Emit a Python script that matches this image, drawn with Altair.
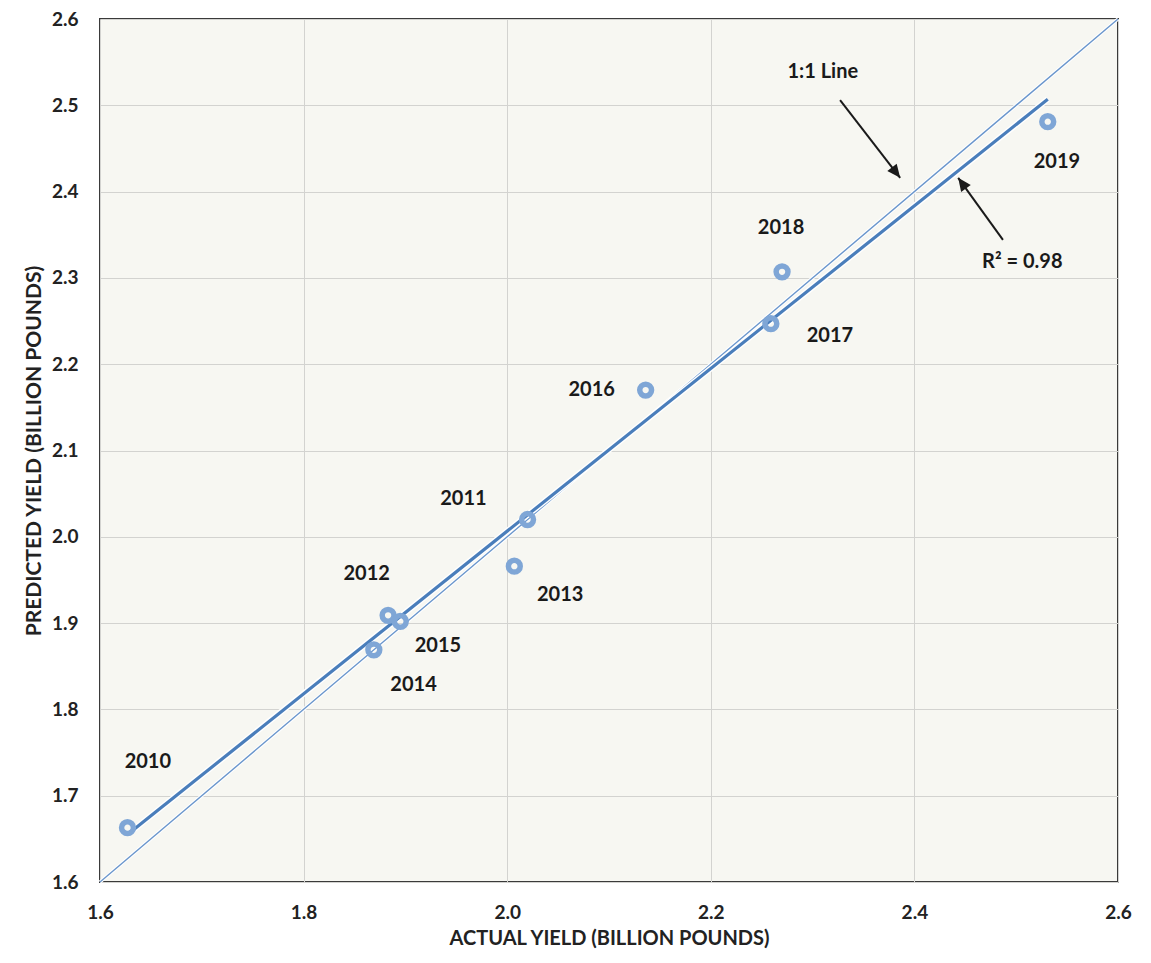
import altair as alt
import pandas as pd

# Observed data (billion pounds)
years = ["2010", "2011", "2012", "2013", "2014", "2015", "2016", "2017", "2018", "2019"]
actual = [1.627, 2.020, 1.883, 2.007, 1.869, 1.895, 2.136, 2.259, 2.270, 2.531]
predicted = [1.663, 2.020, 1.909, 1.966, 1.869, 1.902, 2.170, 2.247, 2.307, 2.481]

# Year label anchor positions (data coordinates)
label_x = [1.647, 1.957, 1.862, 2.052, 1.908, 1.932, 2.083, 2.317, 2.269, 2.540]
label_y = [1.739, 2.044, 1.957, 1.933, 1.828, 1.874, 2.170, 2.233, 2.358, 2.434]

# 1:1 reference line
one_to_one = [1.6, 2.6]

# Annotations
ann_text = ["1:1 Line", "R² = 0.98"]
ann_x = [2.310, 2.506]
ann_y = [2.539, 2.318]
arrow_x0 = [2.327, 2.487]
arrow_y0 = [2.506, 2.344]
arrow_x1 = [2.386, 2.443]
arrow_y1 = [2.416, 2.416]
arrow_angle = [142, 324]

FONT = "Lato"
BLUE_PT = "#7fa6d6"
BLUE_LN = "#4a7ebb"

df = pd.DataFrame({"year": years, "actual": actual, "predicted": predicted})
lab = pd.DataFrame({"year": years, "lx": label_x, "ly": label_y})
one = pd.DataFrame({"x": one_to_one, "y": one_to_one})
ann = pd.DataFrame({"t": ann_text, "x": ann_x, "y": ann_y})
arr = pd.DataFrame({"x0": arrow_x0, "y0": arrow_y0, "x1": arrow_x1, "y1": arrow_y1, "a": arrow_angle})

xs = alt.Scale(domain=[1.6, 2.6], nice=False, zero=False)
ys = alt.Scale(domain=[1.6, 2.6], nice=False, zero=False)

xax = alt.Axis(title="ACTUAL YIELD (BILLION POUNDS)", values=[1.6, 1.8, 2.0, 2.2, 2.4, 2.6],
               format=".1f", grid=True, tickSize=0, labelPadding=21, titlePadding=6,
               titleFontSize=20, labelFlush=False)
yax = alt.Axis(title="PREDICTED YIELD (BILLION POUNDS)",
               values=[1.6, 1.7, 1.8, 1.9, 2.0, 2.1, 2.2, 2.3, 2.4, 2.5, 2.6],
               format=".1f", grid=True, tickSize=0, labelPadding=22, titlePadding=7,
               titleFontSize=21, labelFlush=False)

base_axes = alt.Chart(one).mark_line(stroke="white", strokeWidth=3.5).encode(
    x=alt.X("x:Q", scale=xs, axis=xax),
    y=alt.Y("y:Q", scale=ys, axis=yax),
)
one_line = alt.Chart(one).mark_line(stroke="#6a96cc", strokeWidth=1.4).encode(
    x=alt.X("x:Q", scale=xs), y=alt.Y("y:Q", scale=ys)
)

reg_halo = alt.Chart(df).transform_regression("actual", "predicted").mark_line(
    stroke="white", strokeWidth=6
).encode(x=alt.X("actual:Q", scale=xs), y=alt.Y("predicted:Q", scale=ys))
reg = alt.Chart(df).transform_regression("actual", "predicted").mark_line(
    stroke=BLUE_LN, strokeWidth=3.2
).encode(x=alt.X("actual:Q", scale=xs), y=alt.Y("predicted:Q", scale=ys))

pts = alt.Chart(df).mark_point(shape="circle", filled=False, stroke=BLUE_PT,
                               strokeWidth=5.5, size=140, opacity=1).encode(
    x=alt.X("actual:Q", scale=xs), y=alt.Y("predicted:Q", scale=ys)
)

labels = alt.Chart(lab).mark_text(font=FONT, fontWeight="bold", fontSize=20,
                                  color="#1a1a1a", align="center", baseline="middle").encode(
    x=alt.X("lx:Q", scale=xs), y=alt.Y("ly:Q", scale=ys), text="year:N"
)

ann_txt = alt.Chart(ann).mark_text(font=FONT, fontWeight="bold", fontSize=20,
                                   color="#1a1a1a", align="center", baseline="middle").encode(
    x=alt.X("x:Q", scale=xs), y=alt.Y("y:Q", scale=ys), text="t:N"
)

arr_line = alt.Chart(arr).mark_rule(color="#1a1a1a", strokeWidth=2).encode(
    x=alt.X("x0:Q", scale=xs), y=alt.Y("y0:Q", scale=ys), x2="x1:Q", y2="y1:Q"
)
arr_head = alt.Chart(arr).mark_point(
    shape="M0,0 L0.45,1 L-0.45,1 Z", filled=True, fill="#1a1a1a", stroke=None,
    size=700, opacity=1
).encode(
    x=alt.X("x1:Q", scale=xs), y=alt.Y("y1:Q", scale=ys), angle=alt.Angle("a:Q", scale=None)
)

chart = alt.layer(base_axes, one_line, reg_halo, reg, pts, labels, ann_txt, arr_line, arr_head).properties(
    width=1018, height=863,
    autosize=alt.AutoSizeParams(type="none"),
    padding={"left": 92, "top": 11, "right": 20, "bottom": 76},
    background="white",
).configure_view(
    fill="#f7f7f2", stroke="#3a3a3a", strokeWidth=2
).configure_axis(
    labelFont=FONT, labelFontWeight="bold", labelFontSize=19, labelColor="#222222",
    titleFont=FONT, titleFontWeight="bold", titleColor="#222222",
    gridColor="#d3d3d0", gridWidth=1, domain=False,
)

chart.save("out.html", embed_options={"renderer": "svg", "actions": False})
